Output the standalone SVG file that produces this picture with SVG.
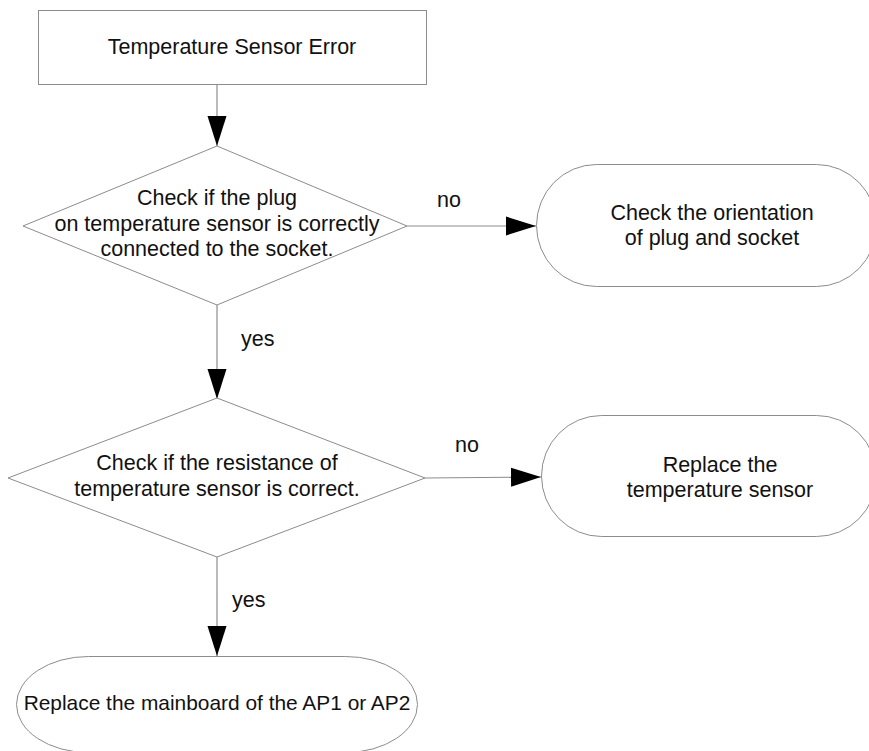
<svg xmlns="http://www.w3.org/2000/svg" width="869" height="751" viewBox="0 0 869 751">
<style>
.shape{fill:#fff;stroke:#8c8c8c;stroke-width:1}
.t{font-family:"Liberation Sans",Arial,sans-serif;font-size:21.5px;fill:#111;text-anchor:middle}
.lbl{font-family:"Liberation Sans",Arial,sans-serif;font-size:21.5px;fill:#111}
.conn{fill:none;stroke:#8c8c8c;stroke-width:1.2}
</style>
<defs>
<marker id="arr" markerUnits="userSpaceOnUse" markerWidth="30" markerHeight="20" refX="30" refY="9.5" orient="auto" viewBox="0 0 30 19">
<path d="M0,0 L30,9.5 L0,19 Z" fill="#000"/>
</marker>
</defs>
<rect width="869" height="751" fill="#fff"/>
<g id="connectors">
<line class="conn" x1="217" y1="85" x2="217" y2="146" marker-end="url(#arr)"/>
<line class="conn" x1="407" y1="226" x2="536" y2="226" marker-end="url(#arr)"/>
<line class="conn" x1="217" y1="305" x2="217" y2="399" marker-end="url(#arr)"/>
<line class="conn" x1="425" y1="478" x2="541" y2="477" marker-end="url(#arr)"/>
<line class="conn" x1="217" y1="557" x2="217" y2="656" marker-end="url(#arr)"/>
<text class="lbl" x="437" y="207">no</text>
<text class="lbl" x="241" y="346">yes</text>
<text class="lbl" x="455" y="452">no</text>
<text class="lbl" x="232" y="607">yes</text>
</g>
<g id="start">
<rect class="shape" x="38.5" y="10.5" width="388" height="74"/>
<text class="t" x="232" y="54">Temperature Sensor Error</text>
</g>
<g id="check-plug">
<polygon class="shape" points="217,146 407,226 217,305 23,226"/>
<text class="t" x="217" y="205">Check if the plug</text>
<text class="t" x="217" y="231">on temperature sensor is correctly</text>
<text class="t" x="217" y="256">connected to the socket.</text>
</g>
<g id="check-orientation">
<rect class="shape" x="536.5" y="164.5" width="340" height="122" rx="60" ry="61"/>
<text class="t" x="712" y="220">Check the orientation</text>
<text class="t" x="712" y="245">of plug and socket</text>
</g>
<g id="check-resistance">
<polygon class="shape" points="217,398 425,478 217,557 8,478"/>
<text class="t" x="217" y="470">Check if the resistance of</text>
<text class="t" x="217" y="496">temperature sensor is correct.</text>
</g>
<g id="replace-sensor">
<rect class="shape" x="541.5" y="415.5" width="335" height="121" rx="60" ry="60.5"/>
<text class="t" x="720" y="472">Replace the</text>
<text class="t" x="720" y="497">temperature sensor</text>
</g>
<g id="replace-mainboard">
<rect class="shape" x="16.5" y="656.5" width="401" height="96" rx="72" ry="48"/>
<text class="t" x="217" y="710" style="font-size:20.9px">Replace the mainboard of the AP1 or AP2</text>
</g>
</svg>
